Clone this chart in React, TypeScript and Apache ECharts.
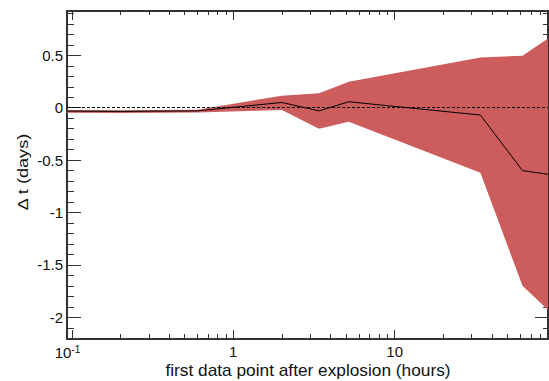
import React, { useEffect, useRef } from "react";
import * as echarts from "echarts";

const hours = [0.093, 0.2, 0.6, 2.0, 3.4, 5.2, 34, 62, 89.2];
const meanDt = [-0.032, -0.035, -0.03, 0.05, -0.03, 0.057, -0.07, -0.6, -0.635];
const bandUpper = [-0.022, -0.025, -0.02, 0.115, 0.137, 0.248, 0.48, 0.496, 0.66];
const bandLower = [-0.048, -0.05, -0.045, -0.022, -0.2, -0.134, -0.62, -1.7, -1.93];

const xMajorTicks = [0.1, 1, 10];
const xMinorTicks = [0.2, 0.3, 0.4, 0.5, 0.6, 0.7, 0.8, 0.9, 2, 3, 4, 5, 6, 7, 8, 9, 20, 30, 40, 50, 60, 70, 80];
const yMajorTicks = [-2, -1.5, -1, -0.5, 0, 0.5];
const yMinorTicks = [-2.2, -2.1, -1.9, -1.8, -1.7, -1.6, -1.4, -1.3, -1.2, -1.1, -0.9, -0.8, -0.7, -0.6, -0.4, -0.3, -0.2, -0.1, 0.1, 0.2, 0.3, 0.4, 0.6, 0.7, 0.8, 0.9];

const xTitle = "first data point after explosion (hours)";
const yTitle = "Δ t (days)";

const X_MIN_H = 0.0932;
const X_MAX_H = 89.2;
const Y_MIN = -2.207;
const Y_MAX = 0.923;

const lg = (v: number) => Math.log10(v);
const FONT = "Liberation Sans, Arial, sans-serif";
const FRAME = "#333";

export default function App() {
  const ref = useRef<HTMLDivElement>(null);
  useEffect(() => {
    if (!ref.current) return;
    const chart = echarts.init(ref.current, null, { renderer: "svg" });
    const xmin = lg(X_MIN_H);
    const xmax = lg(X_MAX_H);
    const mkX = (pos: string, ticks: number[], len: number, showLine: boolean, labels: boolean) => ({
      type: "value",
      position: pos,
      min: xmin,
      max: xmax,
      splitLine: { show: false },
      axisLine: { show: showLine, onZero: false, lineStyle: { color: FRAME, width: 2 } },
      axisTick: {
        show: true,
        inside: true,
        length: len,
        customValues: ticks.map(lg),
        lineStyle: { color: FRAME, width: 1 },
      },
      axisLabel: labels
        ? {
            show: true,
            customValues: xMajorTicks.map(lg),
            margin: 5,
            color: "#111",
            fontSize: 15,
            fontFamily: FONT,
            formatter: (v: number) => {
              const e = Math.round(v);
              if (e === -1) return "{a|10}{b|-1}";
              return e === 0 ? "{a|1}" : "{a|10}";
            },
            rich: {
              a: { fontSize: 15, fontFamily: FONT, color: "#111" },
              b: { fontSize: 10, fontFamily: FONT, color: "#111", padding: [0, 9, 7, 0] },
            },
          }
        : { show: false },
    });
    const mkY = (pos: string, ticks: number[], len: number, showLine: boolean, labels: boolean) => ({
      type: "value",
      position: pos,
      min: Y_MIN,
      max: Y_MAX,
      splitLine: { show: false },
      axisLine: { show: showLine, onZero: false, lineStyle: { color: FRAME, width: 2 } },
      axisTick: {
        show: true,
        inside: true,
        length: len,
        customValues: ticks,
        lineStyle: { color: FRAME, width: 1 },
      },
      axisLabel: labels
        ? {
            show: true,
            customValues: yMajorTicks,
            margin: 4,
            color: "#111",
            fontSize: 15,
            fontFamily: FONT,
            formatter: (v: number) => String(Math.round(v * 10) / 10),
          }
        : { show: false },
    });

    const xAxes: any[] = [
      mkX("bottom", xMajorTicks, 9, true, true),
      mkX("bottom", xMinorTicks, 5, false, false),
      mkX("top", xMajorTicks, 9, true, false),
      mkX("top", xMinorTicks, 4, false, false),
    ];

    const yAxes: any[] = [
      mkY("left", yMajorTicks, 14, true, true),
      mkY("left", yMinorTicks, 7, false, false),
      mkY("right", yMajorTicks, 13, true, false),
      mkY("right", yMinorTicks, 5, false, false),
    ];

    const lx = hours.map(lg);

    chart.setOption({
      animation: false,
      grid: { left: 67, top: 11, right: 1, bottom: 42, containLabel: false, outerBoundsMode: "none" },
      xAxis: xAxes,
      yAxis: yAxes,
      graphic: [
        {
          type: "text",
          x: 23,
          y: 172,
          rotation: Math.PI / 2,
          scaleX: 1.25,
          silent: true,
          style: {
            text: yTitle,
            fontSize: 14.5,
            fontFamily: FONT,
            fill: "#111",
            textAlign: "center",
            textVerticalAlign: "middle",
          },
        },
        {
          type: "text",
          x: 308,
          y: 371,
          scaleX: 1.08,
          silent: true,
          style: {
            text: xTitle,
            fontSize: 16,
            fontFamily: FONT,
            fill: "#111",
            textAlign: "center",
            textVerticalAlign: "middle",
          },
        },
      ],
      series: [
        {
          type: "custom",
          xAxisIndex: 0,
          yAxisIndex: 0,
          silent: true,
          clip: true,
          z: 1,
          data: [[lx[0], bandUpper[0]]],
          renderItem: (_params: any, api: any) => {
            const pts: number[][] = [];
            for (let i = 0; i < lx.length; i++) pts.push(api.coord([lx[i], bandUpper[i]]));
            for (let i = lx.length - 1; i >= 0; i--) pts.push(api.coord([lx[i], bandLower[i]]));
            return { type: "polygon", shape: { points: pts }, style: { fill: "#CD5C5C", stroke: "none" } };
          },
        },
        {
          type: "line",
          xAxisIndex: 0,
          yAxisIndex: 0,
          z: 3,
          symbol: "none",
          silent: true,
          data: lx.map((x, i) => [x, meanDt[i]]),
          lineStyle: { color: "#000", width: 1 },
          markLine: {
            silent: true,
            symbol: ["none", "none"],
            label: { show: false },
            lineStyle: { color: "#000", width: 1, type: [3, 2] },
            data: [{ yAxis: 0 }],
          },
        },
      ],
    });
    return () => chart.dispose();
  }, []);
  return <div ref={ref} style={{ width: 549, height: 381, position: "absolute", left: 0, top: 0 }} />;
}
